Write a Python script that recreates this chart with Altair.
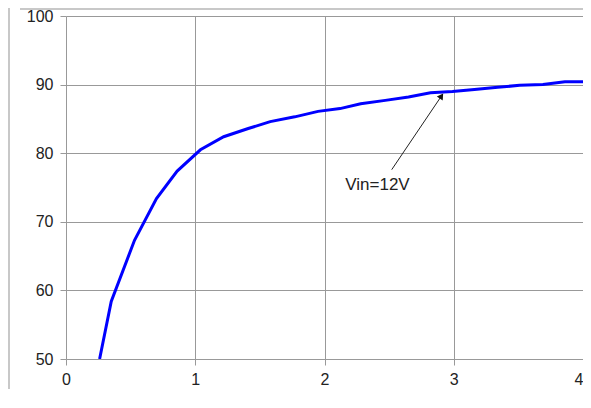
import altair as alt
import pandas as pd

# Curve values
x_vals = [0.26, 0.35, 0.53, 0.70, 0.86, 1.04, 1.22, 1.41, 1.58, 1.77, 1.95, 2.12,
          2.28, 2.47, 2.65, 2.82, 2.99, 3.16, 3.34, 3.51, 3.69, 3.86, 4.00]
y_vals = [50.0, 58.4, 67.3, 73.4, 77.4, 80.5, 82.4, 83.6, 84.6, 85.3, 86.1, 86.5,
          87.2, 87.7, 88.2, 88.8, 89.0, 89.3, 89.6, 89.9, 90.0, 90.4, 90.4]

x_ticks = [0, 1, 2, 3, 4]
y_ticks = [50, 60, 70, 80, 90, 100]

label_text = ["Vin=12V"]
label_x = [2.41]
label_y = [75.4]
arrow_x = [2.52]
arrow_y = [77.6]
arrow_x2 = [2.90]
arrow_y2 = [88.2]
head_x = [2.905]
head_y = [88.35]

curve = pd.DataFrame({"x": x_vals, "y": y_vals})
ann = pd.DataFrame({"t": label_text, "x": label_x, "y": label_y})
arrow = pd.DataFrame({"x": arrow_x, "y": arrow_y, "x2": arrow_x2, "y2": arrow_y2})
head = pd.DataFrame({"x": head_x, "y": head_y})

xs = alt.Scale(domain=[0, 4], nice=False)
ys = alt.Scale(domain=[50, 100], nice=False)

xax = alt.Axis(values=x_ticks, title=None, grid=True, domain=False, labelPadding=6,
               format="d", labelFlush=False,
               labelAlign=alt.expr("datum.value == 4 ? 'right' : 'center'"))
yax = alt.Axis(values=y_ticks, title=None, grid=True, domain=False, labelPadding=7,
               format="d")

line = alt.Chart(curve).mark_line(color="#0000ff", strokeWidth=3, clip=True).encode(
    x=alt.X("x:Q", scale=xs, axis=xax),
    y=alt.Y("y:Q", scale=ys, axis=yax),
)

arrow_line = alt.Chart(arrow).mark_rule(color="#222222", strokeWidth=1).encode(
    x="x:Q", y="y:Q", x2="x2:Q", y2="y2:Q"
)

arrow_head = alt.Chart(head).mark_point(
    shape="triangle-up", filled=True, color="#111111", size=50, angle=34, opacity=1
).encode(x="x:Q", y="y:Q")

text = alt.Chart(ann).mark_text(
    font="Liberation Sans", fontSize=17, color="#222222", align="center", baseline="middle"
).encode(x="x:Q", y="y:Q", text="t:N")

border_left = alt.Chart(pd.DataFrame({"k": [0]})).mark_rule(
    color="#c8c8c8", strokeWidth=2, clip=False
).encode(x=alt.value(-57), y=alt.value(-8), y2=alt.value(400))

border_top = alt.Chart(pd.DataFrame({"k": [0]})).mark_rule(
    color="#c8c8c8", strokeWidth=2, clip=False
).encode(x=alt.value(-46), x2=alt.value(530), y=alt.value(-7))

chart = alt.layer(border_left, border_top, line, arrow_line, arrow_head, text).properties(
    width=517,
    height=343,
    autosize=alt.AutoSizeParams(type="none"),
    padding={"left": 58, "top": 8, "right": 0, "bottom": 30},
).configure_view(strokeWidth=0).configure_axis(
    labelFont="Liberation Sans",
    labelFontSize=16,
    labelColor="#222222",
    gridColor="#999999",
    gridWidth=1,
    tickColor="#999999",
    tickSize=6,
)

chart.save("out.html", embed_options={"renderer": "svg", "actions": False})
